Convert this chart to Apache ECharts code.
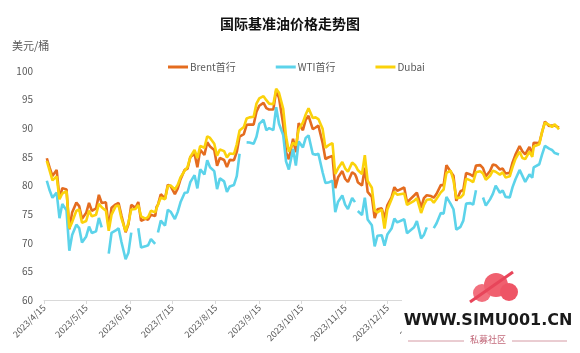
<!DOCTYPE html>
<html>

<head>
    <meta charset="utf-8">
    <title>国际基准油价格走势图</title>
    <script src="https://cdn.jsdelivr.net/npm/echarts@6/dist/echarts.min.js"></script>
</head>

<body style="margin:0">
    <div id="main" style="width: 580px;height:353px;"></div>
    <script type="text/javascript">
        // 采样日期（约每周一、三、五）
        var dates = [
            '2023/4/17', '2023/4/19', '2023/4/21', '2023/4/24', '2023/4/26', '2023/4/28',
            '2023/5/1', '2023/5/3', '2023/5/5', '2023/5/8', '2023/5/10', '2023/5/12', '2023/5/15', '2023/5/17', '2023/5/19', '2023/5/22', '2023/5/24', '2023/5/26', '2023/5/29', '2023/5/31',
            '2023/6/2', '2023/6/5', '2023/6/7', '2023/6/9', '2023/6/12', '2023/6/14', '2023/6/16', '2023/6/19', '2023/6/21', '2023/6/23', '2023/6/26', '2023/6/28', '2023/6/30',
            '2023/7/3', '2023/7/4', '2023/7/5', '2023/7/7', '2023/7/10', '2023/7/12', '2023/7/14', '2023/7/17', '2023/7/19', '2023/7/21', '2023/7/24', '2023/7/26', '2023/7/28', '2023/7/31',
            '2023/8/2', '2023/8/4', '2023/8/7', '2023/8/9', '2023/8/11', '2023/8/14', '2023/8/16', '2023/8/18', '2023/8/21', '2023/8/23', '2023/8/25', '2023/8/28', '2023/8/30',
            '2023/9/1', '2023/9/4', '2023/9/6', '2023/9/8', '2023/9/11', '2023/9/13', '2023/9/15', '2023/9/18', '2023/9/20', '2023/9/22', '2023/9/25', '2023/9/27', '2023/9/29',
            '2023/10/2', '2023/10/4', '2023/10/6', '2023/10/9', '2023/10/11', '2023/10/13', '2023/10/16', '2023/10/18', '2023/10/20', '2023/10/23', '2023/10/25', '2023/10/27', '2023/10/30',
            '2023/11/1', '2023/11/3', '2023/11/6', '2023/11/8', '2023/11/10', '2023/11/13', '2023/11/15', '2023/11/17', '2023/11/20', '2023/11/22', '2023/11/23', '2023/11/24', '2023/11/27', '2023/11/29',
            '2023/12/1', '2023/12/4', '2023/12/6', '2023/12/8', '2023/12/11', '2023/12/13', '2023/12/15', '2023/12/18', '2023/12/20', '2023/12/22', '2023/12/27', '2023/12/29',
            '2024/1/3', '2024/1/5', '2024/1/8', '2024/1/10', '2024/1/12', '2024/1/15', '2024/1/17', '2024/1/19', '2024/1/22', '2024/1/24', '2024/1/26', '2024/1/29', '2024/1/31',
            '2024/2/2', '2024/2/5', '2024/2/7', '2024/2/9', '2024/2/12', '2024/2/14', '2024/2/16', '2024/2/19', '2024/2/21', '2024/2/23', '2024/2/26', '2024/2/28',
            '2024/3/1', '2024/3/4', '2024/3/6', '2024/3/8', '2024/3/11', '2024/3/13', '2024/3/15', '2024/3/18', '2024/3/20', '2024/3/22', '2024/3/25', '2024/3/27', '2024/3/28',
            '2024/4/1', '2024/4/3', '2024/4/5', '2024/4/8', '2024/4/10', '2024/4/12', '2024/4/15'
        ];
        var brent = [
            84.76, 83.12, 81.66, 82.73, 77.69, 79.54,
            79.31, 72.33, 75.30, 77.01, 76.41, 74.17, 75.23, 76.96, 75.58, 75.99, 78.36, 76.95, 77.07, 72.66,
            76.13, 76.71, 76.95, 74.79, 71.84, 73.20, 76.61, 76.09, 77.12, 73.85, 74.18, 74.03, 74.90,
            74.65, 76.25, 76.65, 78.47, 77.69, 80.11, 79.87, 78.50, 79.46, 81.07, 82.74, 82.92, 84.99, 85.56,
            83.20, 86.24, 85.34, 87.55, 86.81, 86.21, 83.45, 84.80, 84.46, 83.21, 84.48, 84.42, 85.86,
            88.55, 88.99, 90.60, 90.65, 90.64, 92.88, 93.93, 94.43, 93.53, 93.27, 93.29, 96.55, 95.31,
            90.71, 85.81, 84.58, 88.15, 85.82, 90.89, 89.65, 91.50, 92.16, 89.83, 90.13, 90.48, 87.45,
            84.63, 84.89, 85.18, 79.54, 81.43, 82.52, 81.18, 80.61, 82.32, 81.96, 81.42, 80.58, 79.98, 83.10,
            78.88, 78.03, 74.30, 75.84, 76.03, 74.26, 76.55, 77.95, 79.70, 79.07, 79.65, 77.04,
            78.25, 78.76, 76.12, 77.80, 78.29, 78.15, 77.88, 78.56, 80.06, 80.04, 83.55, 82.40, 81.71,
            77.33, 78.99, 79.21, 82.19, 81.92, 81.60, 83.47, 83.56, 83.03, 81.62, 82.53, 83.68,
            83.55, 82.80, 82.96, 82.08, 82.21, 84.03, 85.34, 86.89, 85.95, 85.43, 86.75, 85.41, 87.48,
            87.42, 89.35, 91.17, 90.38, 90.48, 90.45, 90.10
        ];
        // '-' 为美国假日无报价
        var wti = [
            80.83, 79.16, 77.87, 78.76, 74.30, 76.78,
            75.66, 68.60, 71.34, 73.16, 72.56, 70.04, 71.11, 72.83, 71.69, 71.99, 74.34, 72.67, '-', 68.09,
            71.74, 72.15, 72.53, 70.17, 67.12, 68.27, 71.78, '-', 72.53, 69.16, 69.37, 69.56, 70.64,
            69.79, '-', 71.79, 73.86, 72.99, 75.75, 75.42, 74.15, 75.35, 77.07, 78.74, 78.78, 80.58, 81.80,
            79.49, 82.82, 81.94, 84.40, 83.19, 82.51, 79.38, 81.25, 80.72, 78.89, 79.83, 80.10, 81.63,
            85.55, '-', 87.54, 87.51, 87.29, 88.52, 90.77, 91.48, 89.66, 90.03, 89.68, 93.68, 90.79,
            88.82, 84.22, 82.79, 86.38, 83.49, 87.69, 86.66, 88.32, 88.75, 85.49, 85.39, 85.54, 82.31,
            80.44, 80.51, 80.82, 75.33, 77.17, 78.26, 76.66, 75.89, 77.83, 77.10, '-', 75.54, 74.86, 77.86,
            74.07, 73.04, 69.38, 71.23, 71.32, 69.47, 71.43, 72.47, 74.22, 73.56, 74.11, 71.65,
            72.70, 73.81, 70.77, 71.37, 72.68, '-', 72.56, 73.41, 75.19, 75.09, 78.01, 76.78, 75.85,
            72.28, 72.78, 73.86, 76.84, 76.92, 76.64, 79.19, '-', 77.91, 76.49, 77.58, 78.54,
            79.97, 78.74, 79.13, 78.01, 77.93, 79.72, 81.04, 82.72, 81.68, 80.63, 81.95, 81.35, 83.17,
            83.71, 85.43, 86.91, 86.43, 86.21, 85.66, 85.41
        ];
        var dubai = [
            84.3, 82.6, 80.9, 81.6, 77.6, 78.6,
            79.0, 72.5, 73.6, 75.6, 75.8, 73.5, 73.8, 75.6, 74.6, 74.9, 76.8, 76.2, 75.6, 72.1,
            74.9, 76.4, 76.5, 74.3, 72.0, 73.5, 75.8, 75.9, 76.6, 74.6, 74.2, 74.5, 75.6,
            75.3, 76.0, 76.3, 77.9, 77.6, 79.9, 80.0, 79.3, 80.1, 81.4, 82.6, 83.2, 85.0, 86.2,
            84.8, 86.9, 86.6, 88.6, 88.3, 87.3, 85.2, 86.3, 86.0, 84.9, 85.6, 85.5, 87.2,
            89.6, 90.2, 91.7, 91.9, 92.0, 94.3, 95.2, 95.6, 94.9, 94.3, 94.2, 96.9, 96.2,
            93.4, 88.6, 85.9, 87.5, 87.0, 89.8, 91.0, 92.4, 93.5, 91.8, 91.9, 91.6, 89.9,
            86.6, 87.0, 87.4, 82.0, 83.0, 84.1, 83.0, 82.4, 84.0, 83.6, 83.2, 82.7, 82.0, 85.3,
            80.8, 79.6, 75.6, 75.3, 75.8, 72.5, 75.8, 77.6, 78.9, 78.4, 78.6, 76.6,
            77.3, 77.8, 75.2, 76.6, 77.5, 77.6, 77.0, 77.7, 78.8, 79.3, 82.2, 82.6, 80.9,
            77.8, 77.9, 78.4, 81.2, 80.9, 80.6, 82.3, 82.5, 82.1, 81.0, 81.7, 82.6,
            82.4, 81.9, 82.3, 81.4, 81.6, 83.2, 84.6, 85.9, 84.8, 84.6, 85.9, 85.0, 86.8,
            87.2, 89.4, 91.0, 90.6, 90.2, 90.7, 89.8
        ];

        // 横轴：2023/4/15 至 2024/4/15 的全部日历日
        var days = [];
        var d = new Date(2023, 3, 15);
        var end = new Date(2024, 3, 15);
        while (d <= end) {
            days.push(d.getFullYear() + '/' + (d.getMonth() + 1) + '/' + d.getDate());
            d.setDate(d.getDate() + 1);
        }

        function pairs(vals) {
            return dates.map(function (t, i) { return [t, vals[i]]; });
        }
        function isMid(index, value) {
            return value.split('/')[2] === '15';
        }

        var myChart = echarts.init(document.getElementById('main'));
        var option = {
            backgroundColor: '#fff',
            title: {
                text: '国际基准油价格走势图',
                left: 'center',
                top: 12,
                textStyle: {
                    fontSize: 14,
                    fontWeight: 'bold',
                    color: '#111',
                    fontFamily: 'Noto Sans CJK SC'
                }
            },
            legend: {
                left: 163,
                top: 57,
                itemGap: 40,
                itemWidth: 20,
                itemHeight: 3,
                icon: 'rect',
                textStyle: {
                    fontSize: 10,
                    color: '#595959',
                    padding: [0, 0, 0, -3],
                    fontFamily: 'Noto Sans CJK SC'
                },
                data: ['Brent首行', 'WTI首行', 'Dubai']
            },
            grid: {
                left: 44,
                right: 21,
                top: 71,
                bottom: 53
            },
            xAxis: {
                type: 'category',
                boundaryGap: false,
                data: days,
                axisLine: { lineStyle: { color: '#d9d9d9' } },
                axisTick: { interval: isMid, length: 4, lineStyle: { color: '#d9d9d9' } },
                axisLabel: {
                    interval: isMid,
                    rotate: 45,
                    fontSize: 9,
                    color: '#595959',
                    margin: 6,
                    fontFamily: 'Noto Sans CJK SC'
                }
            },
            yAxis: {
                type: 'value',
                min: 60,
                max: 100,
                interval: 5,
                axisLine: { show: false },
                axisTick: { show: false },
                splitLine: { show: false },
                axisLabel: {
                    fontSize: 10,
                    color: '#595959',
                    margin: 11,
                    fontFamily: 'Noto Sans CJK SC'
                }
            },
            series: [
                {
                    name: 'Brent首行',
                    type: 'line',
                    showSymbol: false,
                    color: '#E46C1F',
                    lineStyle: { width: 2.6 },
                    data: pairs(brent)
                },
                {
                    name: 'WTI首行',
                    type: 'line',
                    showSymbol: false,
                    connectNulls: false,
                    color: '#5CD3EA',
                    lineStyle: { width: 2.6 },
                    data: pairs(wti)
                },
                {
                    name: 'Dubai',
                    type: 'line',
                    showSymbol: false,
                    color: '#FBD20B',
                    lineStyle: { width: 2.6 },
                    data: pairs(dubai)
                }
            ],
            graphic: [
                {
                    type: 'text', left: 12, top: 40, z: 10,
                    style: { text: '美元/桶', fontSize: 11, fill: '#595959', fontFamily: 'Noto Sans CJK SC' }
                },
                // 水印
                {
                    type: 'rect', z: 100,
                    shape: { x: 402, y: 296, width: 178, height: 57 },
                    style: { fill: '#fff' }
                },
                { type: 'circle', z: 101, shape: { cx: 482, cy: 293, r: 9 }, style: { fill: '#f2707e' } },
                { type: 'circle', z: 101, shape: { cx: 496, cy: 285, r: 12 }, style: { fill: '#f0606f' } },
                { type: 'circle', z: 101, shape: { cx: 509, cy: 292, r: 9 }, style: { fill: '#ee5566' } },
                { type: 'line', z: 102, shape: { x1: 470, y1: 302, x2: 513, y2: 272 }, style: { stroke: '#e8455a', lineWidth: 3 } },
                {
                    type: 'text', z: 102, x: 488, y: 313,
                    style: { text: 'WWW.SIMU001.CN', fontSize: 16, fontWeight: 'bold', fill: '#1a1a1a', fontFamily: 'DejaVu Sans', align: 'center', verticalAlign: 'top' }
                },
                { type: 'line', z: 102, shape: { x1: 408, y1: 341, x2: 464, y2: 341 }, style: { stroke: '#d59aa4', lineWidth: 1 } },
                { type: 'line', z: 102, shape: { x1: 512, y1: 341, x2: 567, y2: 341 }, style: { stroke: '#d59aa4', lineWidth: 1 } },
                {
                    type: 'text', z: 102, x: 488, y: 335,
                    style: { text: '私募社区', fontSize: 9, fill: '#c2697a', fontFamily: 'Noto Sans CJK SC', align: 'center', verticalAlign: 'top' }
                }
            ]
        };

        myChart.setOption(option);
    </script>
</body>

</html>
